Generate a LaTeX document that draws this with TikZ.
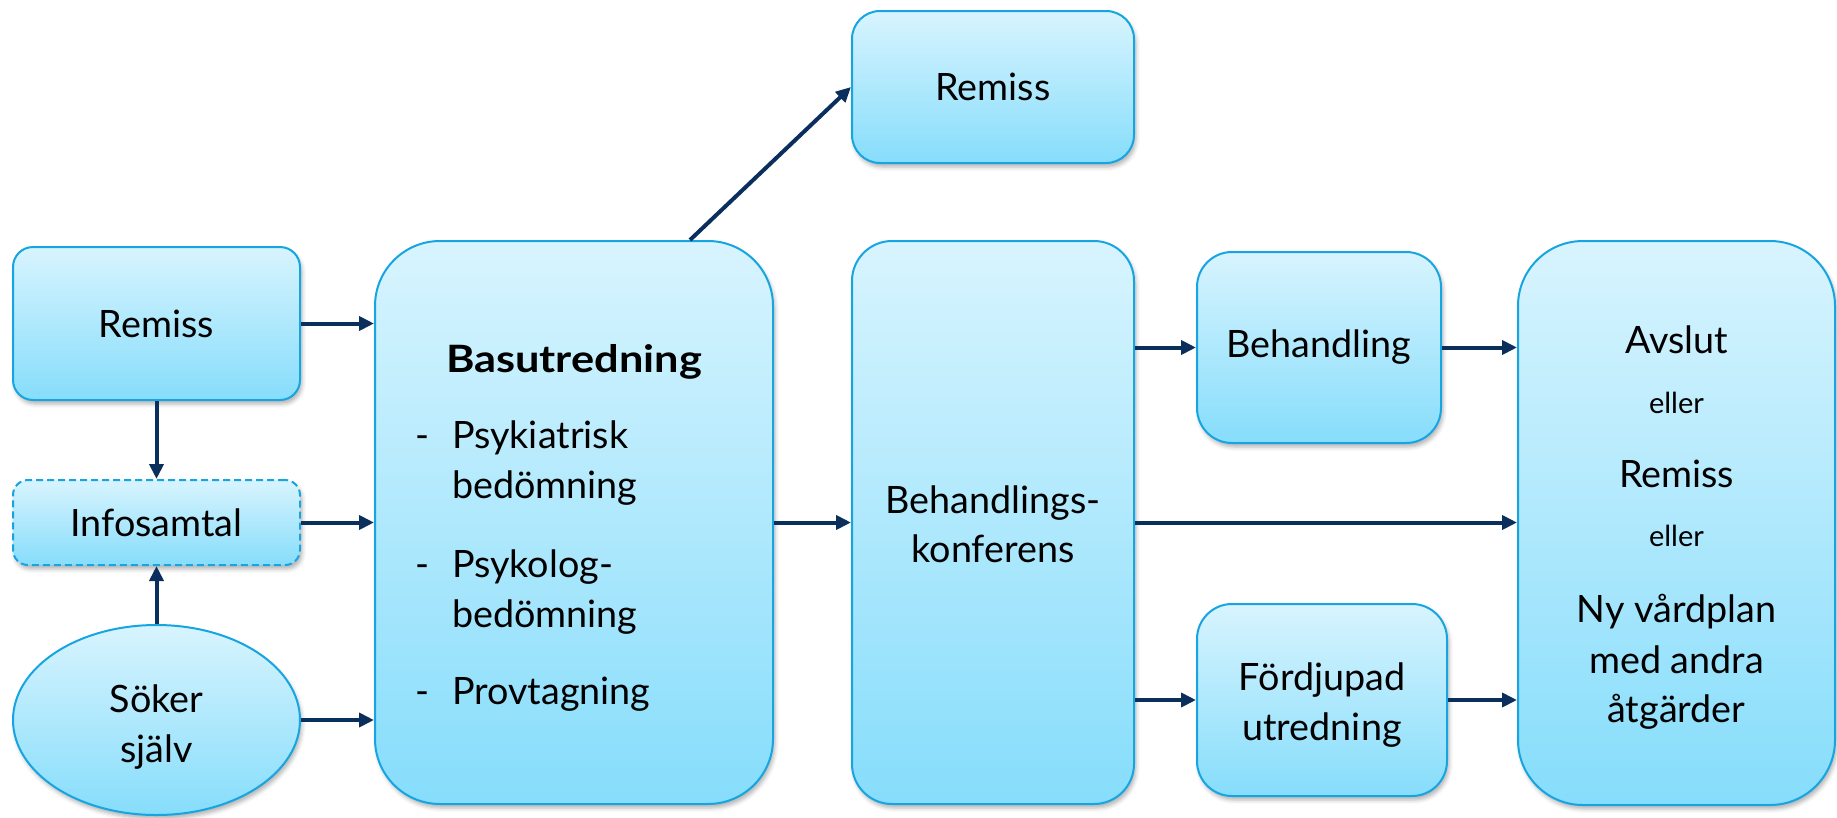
\documentclass[tikz,border=0pt]{standalone}
\usepackage{fontspec}
\setmainfont{Lato}
\usepackage{graphicx}
\usetikzlibrary{arrows.meta,shapes.geometric,calc,shadows.blur}
\definecolor{boxtop}{RGB}{216,244,254}
\definecolor{boxbot}{RGB}{134,221,251}
\definecolor{boxline}{RGB}{22,165,225}
\definecolor{arrowc}{RGB}{10,47,92}
\newcommand\bigtxt{\fontsize{37.7}{50}\selectfont}
\newcommand\smalltxt{\fontsize{29}{34}\selectfont}
\tikzset{
  shad/.style={blur shadow={shadow xshift=2pt,shadow yshift=-4pt,shadow blur radius=4pt,shadow opacity=30}},
  box/.style={draw=boxline, line width=2pt, top color=boxtop, bottom color=boxbot,
    rounded corners=#1, inner sep=0pt, align=center, font=\bigtxt, shad},
  box/.default=30pt,
  ellbox/.style={ellipse, draw=boxline, line width=2pt, top color=boxtop, bottom color=boxbot,
    inner sep=0pt, align=center, font=\bigtxt, shad},
  txt/.style={inner sep=0pt, font=\bigtxt},
  arr/.style={draw=arrowc, line width=4pt, -{Triangle[length=15pt,width=14pt]}}
}
\begin{document}
\begin{tikzpicture}[x=1pt,y=-1pt]
\useasboundingbox (0,0) rectangle (1837,817);
% boxes
\node[box=20pt, minimum width=287pt, minimum height=153pt] (remissL) at (156.5,323.5) {Remiss};
\node[box=15pt, dash pattern=on 7pt off 4pt, minimum width=287pt, minimum height=85pt] (info) at (156.5,522.5) {Infosamtal};
\node[ellbox, minimum width=287pt, minimum height=190pt] (soker) at (156.5,720) {};
\node[box=65pt, minimum width=398pt, minimum height=563pt] (bas) at (574,522.5) {};
\node[box=28pt, minimum width=282pt, minimum height=152pt] (remissT) at (993,87) {Remiss};
\node[box=40pt, minimum width=282pt, minimum height=563pt] (konf) at (993,522.5) {};
\node[box=35pt, minimum width=244pt, minimum height=191pt] (beh) at (1319,347.5) {Behandling};
\node[box=35pt, minimum width=250pt, minimum height=192pt] (ford) at (1322,700) {};
\node[box=65pt, minimum width=317pt, minimum height=564pt] (final) at (1676.5,523) {};
% Söker själv text
\node[txt, anchor=base] (s1) at (156.5,712) {Söker};
\node[txt, anchor=base] (s2) at (156.5,762) {själv};
% Behandlingskonferens text
\node[txt, anchor=base] (k1) at (993,513) {Behandlings-};
\node[txt, anchor=base] (k2) at (993,562) {konferens};
% Fördjupad utredning text
\node[txt, anchor=base] (u1) at (1322,690) {Fördjupad};
\node[txt, anchor=base] (u2) at (1322,740) {utredning};
% Basutredning text
\node[txt, anchor=base] (basT) at (574,372) {\scalebox{1.15}[1]{\bfseries Basutredning}};
\node[txt, anchor=base west] (d1) at (415,448) {-};
\node[txt, anchor=base west] (i1a) at (452,448) {Psykiatrisk};
\node[txt, anchor=base west] (i1b) at (452,498) {bedömning};
\node[txt, anchor=base west] (d2) at (415,577) {-};
\node[txt, anchor=base west] (i2a) at (452,577) {Psykolog-};
\node[txt, anchor=base west] (i2b) at (452,627) {bedömning};
\node[txt, anchor=base west] (d3) at (415,704) {-};
\node[txt, anchor=base west] (i3) at (452,704) {Provtagning};
% final text
\node[txt, anchor=base] (f1) at (1676.5,353) {Avslut};
\node[txt, anchor=base, font=\smalltxt] (f2) at (1676.5,413) {eller};
\node[txt, anchor=base] (f3) at (1676.5,487) {Remiss};
\node[txt, anchor=base, font=\smalltxt] (f4) at (1676.5,546) {eller};
\node[txt, anchor=base] (f5) at (1676.5,622) {Ny vårdplan};
\node[txt, anchor=base] (f6) at (1676.5,673) {med andra};
\node[txt, anchor=base] (f7) at (1676.5,722) {åtgärder};
% arrows
\draw[arr] (remissL.east) -- (remissL.east -| bas.west);
\draw[arr] (info.east) -- (info.east -| bas.west);
\draw[arr] (soker.east) -- (soker.east -| bas.west);
\draw[arr] (remissL.south) -- (info.north);
\draw[arr] (soker.north) -- (info.south);
\draw[arr] ($(bas.north)+(116,0)$) -- (remissT.west);
\draw[arr] (bas.east) -- (konf.west);
\draw[arr] (konf.east |- beh.west) -- (beh.west);
\draw[arr] (konf.east) -- (konf.east -| final.west);
\draw[arr] (konf.east |- ford.west) -- (ford.west);
\draw[arr] (beh.east) -- (beh.east -| final.west);
\draw[arr] (ford.east) -- (ford.east -| final.west);
\end{tikzpicture}
\end{document}
